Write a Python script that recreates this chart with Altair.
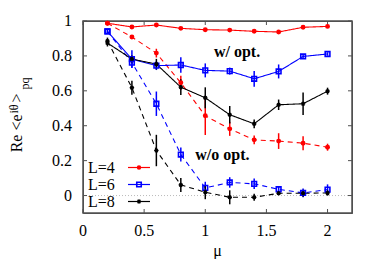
import altair as alt
import pandas as pd

mu = [0.2, 0.4, 0.6, 0.8, 1.0, 1.2, 1.4, 1.6, 1.8, 2.0]

L4_opt = [0.987, 0.966, 0.977, 0.958, 0.950, 0.948, 0.941, 0.937, 0.964, 0.969]
L4_opt_err = [0.005, 0.005, 0.005, 0.005, 0.005, 0.005, 0.005, 0.005, 0.005, 0.005]
L4_no = [0.987, 0.908, 0.816, 0.646, 0.457, 0.382, 0.319, 0.312, 0.300, 0.277]
L4_no_err = [0.005, 0.01, 0.025, 0.04, 0.11, 0.04, 0.025, 0.045, 0.04, 0.02]

L6_opt = [0.941, 0.782, 0.744, 0.748, 0.717, 0.713, 0.669, 0.711, 0.797, 0.811]
L6_opt_err = [0.01, 0.05, 0.025, 0.045, 0.04, 0.02, 0.045, 0.04, 0.01, 0.01]
L6_no = [0.940, 0.761, 0.526, 0.235, 0.044, 0.075, 0.067, 0.036, 0.015, 0.034]
L6_no_err = [0.01, 0.03, 0.07, 0.04, 0.035, 0.03, 0.03, 0.015, 0.025, 0.03]

L8_opt = [0.874, 0.782, 0.753, 0.621, 0.560, 0.463, 0.411, 0.520, 0.526, 0.598]
L8_opt_err = [0.02, 0.02, 0.03, 0.045, 0.06, 0.05, 0.025, 0.03, 0.065, 0.02]
L8_no = [0.885, 0.618, 0.258, 0.061, 0.019, -0.010, -0.010, 0.013, 0.013, 0.015]
L8_no_err = [0.02, 0.04, 0.09, 0.04, 0.04, 0.04, 0.02, 0.01, 0.02, 0.015]

labels = ["L=4", "L=6", "L=8"]
colors = ["#ff0000", "#0000ff", "#000000"]
x_ticks = [0, 0.5, 1, 1.5, 2]
x_tick_labels = ["0", "0.5", "1", "1.5", "2"]
y_ticks = [0, 0.2, 0.4, 0.6, 0.8, 1]
y_tick_labels = ["0", "0.2", "0.4", "0.6", "0.8", "1"]

series = [
    ("L=4", "opt", L4_opt, L4_opt_err),
    ("L=4", "no", L4_no, L4_no_err),
    ("L=6", "opt", L6_opt, L6_opt_err),
    ("L=6", "no", L6_no, L6_no_err),
    ("L=8", "opt", L8_opt, L8_opt_err),
    ("L=8", "no", L8_no, L8_no_err),
]
rows = []
for lab, o, vals, errs in series:
    for m, v, e in zip(mu, vals, errs):
        rows.append(dict(mu=m, val=v, lo=v - e, hi=v + e, L=lab, opt=o))
df = pd.DataFrame(rows)

W, H = 269, 192
FONT = "Liberation Serif"

xscale = alt.Scale(domain=[0, 2.2], nice=False, zero=False)
yscale = alt.Scale(domain=[-0.1, 1.0], nice=False, zero=False)
X = alt.X("mu:Q", scale=xscale, axis=None)
Y = alt.Y("val:Q", scale=yscale, axis=None)
color = alt.Color("L:N", scale=alt.Scale(domain=labels, range=colors), legend=None)
dash = alt.StrokeDash("opt:N", scale=alt.Scale(domain=["opt", "no"], range=[[1, 0], [5, 4]]),
                      legend=None)

base = alt.Chart(df)
one = pd.DataFrame({"a": [0]})

FRAME = "#505050"
frame = alt.Chart(one).mark_rect(filled=False, stroke=FRAME, strokeWidth=1.5).encode(
    x=alt.value(0), x2=alt.value(W), y=alt.value(0), y2=alt.value(H))

zero = alt.Chart(pd.DataFrame({"val": [0]})).mark_rule(
    color="#aaaaaa", strokeWidth=0.8, strokeDash=[1, 2]).encode(
    y=Y, x=alt.value(0), x2=alt.value(W))

xt = pd.DataFrame({"mu": x_ticks, "lab": x_tick_labels})
yt = pd.DataFrame({"val": y_ticks, "lab": y_tick_labels})
tick_style = dict(color=FRAME, strokeWidth=1)
ticks = [
    alt.Chart(xt).mark_rule(**tick_style).encode(x=X, y=alt.value(H), y2=alt.value(H - 4)),
    alt.Chart(xt).mark_rule(**tick_style).encode(x=X, y=alt.value(0), y2=alt.value(4)),
    alt.Chart(yt).mark_rule(**tick_style).encode(y=Y, x=alt.value(0), x2=alt.value(4)),
    alt.Chart(yt).mark_rule(**tick_style).encode(y=Y, x=alt.value(W), x2=alt.value(W - 4)),
]
tick_labels = [
    alt.Chart(xt).mark_text(font=FONT, fontSize=16, baseline="middle", align="center",
                            color="#000").encode(x=X, y=alt.value(H + 18), text="lab:N"),
    alt.Chart(yt).mark_text(font=FONT, fontSize=16, baseline="middle", align="right",
                            color="#000").encode(y=Y, x=alt.value(-11), text="lab:N"),
]
xtitle = alt.Chart(one).mark_text(text="μ", font=FONT, fontSize=16, baseline="middle",
                                  color="#000").encode(x=alt.value(W / 2), y=alt.value(H + 38))

lines = base.mark_line(strokeWidth=1.1).encode(x=X, y=Y, color=color, strokeDash=dash)
errs = base.mark_rule(strokeWidth=1.5).encode(x=X, y=alt.Y("lo:Q", scale=yscale, axis=None),
                                              y2="hi:Q", color=color)

ASTER = "M-1,0L1,0M0,-1L0,1M-0.7,-0.7L0.7,0.7M-0.7,0.7L0.7,-0.7"
pt4 = base.transform_filter(alt.datum.L == "L=4").mark_point(
    shape="circle", filled=True, size=24, color=colors[0], opacity=1).encode(x=X, y=Y)
pt6 = base.transform_filter(alt.datum.L == "L=6").mark_point(
    shape="square", filled=False, size=22, strokeWidth=1.6, color=colors[1], opacity=1).encode(x=X, y=Y)
pt8 = base.transform_filter(alt.datum.L == "L=8").mark_point(
    shape=ASTER, filled=False, size=20, strokeWidth=1.2, color=colors[2], opacity=1).encode(x=X, y=Y)

ann1 = alt.Chart(one).mark_text(text="w/ opt.", font=FONT, fontSize=16, fontWeight="bold",
                                color="#000").encode(x=alt.datum(1.26), y=alt.datum(0.82))
ann2 = alt.Chart(one).mark_text(text="w/o opt.", font=FONT, fontSize=16, fontWeight="bold",
                                color="#000").encode(x=alt.datum(1.14), y=alt.datum(0.23))

# y-axis label pieces (rotated): Re <e^{iθ}>_{pq}
ylab = []
for txt, px, py, fs in [("Re <e", -61.5, 131.3, 16), ("iθ", -65, 92.5, 12),
                        (">", -61.5, 81.5, 16), ("pq", -54.5, 68.5, 12)]:
    ylab.append(alt.Chart(one).mark_text(text=txt, font=FONT, fontSize=fs, angle=270,
                                         align="left", baseline="alphabetic", color="#000")
                .encode(x=alt.value(px), y=alt.value(py)))

# in-plot legend (label left, sample right)
leg = []
shapes = [("circle", True, 1.0), ("square", False, 1.6), (ASTER, False, 1.2)]
for i, (lab, col) in enumerate(zip(labels, colors)):
    yy = 146.5 + 17 * i
    leg.append(alt.Chart(one).mark_text(text=lab, font=FONT, fontSize=16, align="left",
                                        baseline="middle", color="#000")
               .encode(x=alt.value(5), y=alt.value(yy)))
    leg.append(alt.Chart(one).mark_rule(color=col, strokeWidth=1.2)
               .encode(x=alt.value(45), x2=alt.value(67), y=alt.value(yy)))
    shp, fil, sw = shapes[i]
    leg.append(alt.Chart(one).mark_point(shape=shp, filled=fil, size=20, strokeWidth=sw,
                                         color=col, opacity=1)
               .encode(x=alt.value(56), y=alt.value(yy)))

chart = alt.layer(frame, zero, *ticks, *tick_labels, xtitle, lines, errs, pt4, pt6, pt8,
                  ann1, ann2, *ylab, *leg).properties(
    width=W, height=H,
    background="white",
    autosize=alt.AutoSizeParams(type="none"),
    padding={"left": 75, "top": 13, "right": 22, "bottom": 46},
).configure_view(stroke=FRAME, strokeWidth=1)

chart.save("out.html", embed_options={"renderer": "svg", "actions": False})
